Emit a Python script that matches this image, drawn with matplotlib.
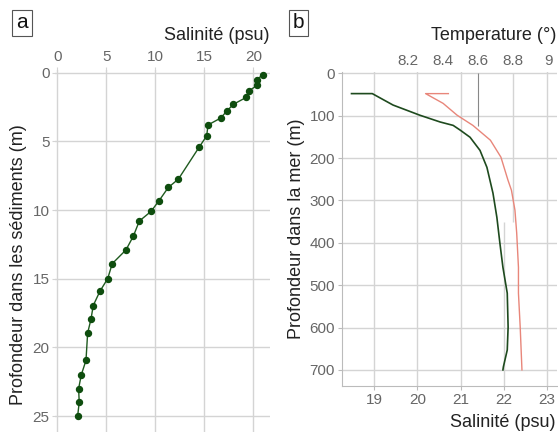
import matplotlib
matplotlib.use('Agg')
import matplotlib.pyplot as plt
import numpy as np

plt.rcParams['font.family'] = ['Liberation Sans', 'DejaVu Sans']

# panneau a : salinité dans les sédiments
sed_depth = [0.15, 0.5, 0.9, 1.3, 1.8, 2.3, 2.8, 3.3, 3.8, 4.6, 5.4, 7.75, 8.35,
             9.35, 10.1, 10.8, 11.9, 12.9, 13.9, 15.0, 15.9, 16.95, 17.95, 18.95,
             20.95, 22.0, 23.0, 24.0, 25.0]
sed_sal = [20.96, 20.35, 20.41, 19.6, 19.26, 17.96, 17.28, 16.67, 15.38, 15.24,
           14.49, 12.35, 11.33, 10.35, 9.56, 8.37, 7.76, 7.01, 5.61, 5.14, 4.36,
           3.67, 3.44, 3.10, 2.93, 2.45, 2.18, 2.24, 2.08]

# panneau b : profil dans la mer
sea_depth_s = [48, 48, 75, 99, 115, 123, 134, 151, 182, 222, 283, 340, 401, 458,
               519, 599, 653, 693, 700]
sea_sal = [18.48, 18.96, 19.44, 20.06, 20.53, 20.83, 20.99, 21.22, 21.45, 21.61,
           21.75, 21.84, 21.91, 21.98, 22.08, 22.10, 22.08, 21.99, 21.98]
sea_depth_t = [48, 48, 71, 99, 123, 158, 198, 252, 276, 323, 377, 458, 519, 599, 700]
sea_temp = [8.43, 8.30, 8.40, 8.48, 8.57, 8.67, 8.73, 8.77, 8.79, 8.81, 8.82,
            8.83, 8.83, 8.84, 8.85]

W, H = 558, 432
fig = plt.figure(figsize=(W/100, H/100), dpi=100)

gridc = '#d4d4d4'
tickc = '#666666'
titlec = '#222222'

# ---- a ----
ax = fig.add_axes([55/W, 1-460/H, 215/W, 390/H])
ax.plot(sed_sal, sed_depth, '-', color='#1f5a1f', lw=1.0)
ax.plot(sed_sal, sed_depth, 'o', color='#0e4d0e', ms=4.3)
ax.set_xlim(-0.23, 21.7)
ax.set_ylim(28.2, -0.2)
ax.set_xticks([0, 5, 10, 15, 20])
ax.set_yticks([0, 5, 10, 15, 20, 25])
ax.xaxis.tick_top()
ax.grid(True, color=gridc, lw=1)
ax.set_axisbelow(True)
for s in ax.spines.values():
    s.set_visible(False)
ax.tick_params(colors=gridc, labelcolor=tickc, labelsize=11, length=2, pad=2)
ax.set_ylabel('Profondeur dans les sédiments (m)', fontsize=13, color=titlec, labelpad=4)

# ---- b ----
bx = fig.add_axes([342/W, 1-386/H, 215/W, 314/H])
bx.plot(sea_sal, sea_depth_s, '-', color='#1e4a1e', lw=1.2)
bx.set_xlim(18.26, 23.23)
bx.set_ylim(738, -3)
bx.set_xticks([19, 20, 21, 22, 23])
bx.set_yticks(np.arange(0, 701, 100))
bx.grid(False)
for y in range(0, 701, 100):
    bx.axhline(y, color=gridc, lw=1, zorder=0)
for x in [19, 20, 21, 23]:
    bx.axvline(x, color=gridc, lw=1, zorder=0)
bx.vlines(22, 350, 738, color=gridc, lw=1, zorder=0)
for k in ['top', 'right']:
    bx.spines[k].set_visible(False)
for k in ['left', 'bottom']:
    bx.spines[k].set_color('#bbbbbb')
bx.tick_params(colors='#bbbbbb', labelcolor=tickc, labelsize=11, length=3, pad=2)
bx.set_ylabel('Profondeur dans la mer (m)', fontsize=13, color=titlec, labelpad=3)

tx = bx.twiny()
tx.plot(sea_temp, sea_depth_t, '-', color='#e8867a', lw=1.0)
tx.set_xlim(7.823, 9.05)
tx.set_ylim(738, -3)
tx.set_xticks([8.2, 8.4, 8.6, 8.8, 9.0])
tx.set_xticklabels(['8.2', '8.4', '8.6', '8.8', '9'])
tx.vlines(8.6, 0, 125, color='#888888', lw=0.8, zorder=0)
tx.vlines(8.8, 0, 350, color=gridc, lw=1, zorder=0)
for s in tx.spines.values():
    s.set_visible(False)
tx.tick_params(length=0, labelcolor=tickc, labelsize=11, pad=3)

# titres des axes
fig.text(270/W, 1-35/H, 'Salinité (psu)', ha='right', va='center', fontsize=13, color=titlec)
fig.text(556/W, 1-35/H, 'Temperature (°)', ha='right', va='center', fontsize=13, color=titlec)
fig.text(556/W, 1-431/H, 'Salinité (psu)', ha='right', va='bottom', fontsize=13, color=titlec)

# lettres des panneaux
box = dict(boxstyle='square,pad=0.18', fc='white', ec='#555555', lw=0.8)
fig.text(22/W, 1-23/H, 'a', ha='center', va='center', fontsize=15, color='#111111', bbox=box)
fig.text(298/W, 1-23/H, 'b', ha='center', va='center', fontsize=15, color='#111111', bbox=box)

fig.savefig('out.png', dpi=100)
